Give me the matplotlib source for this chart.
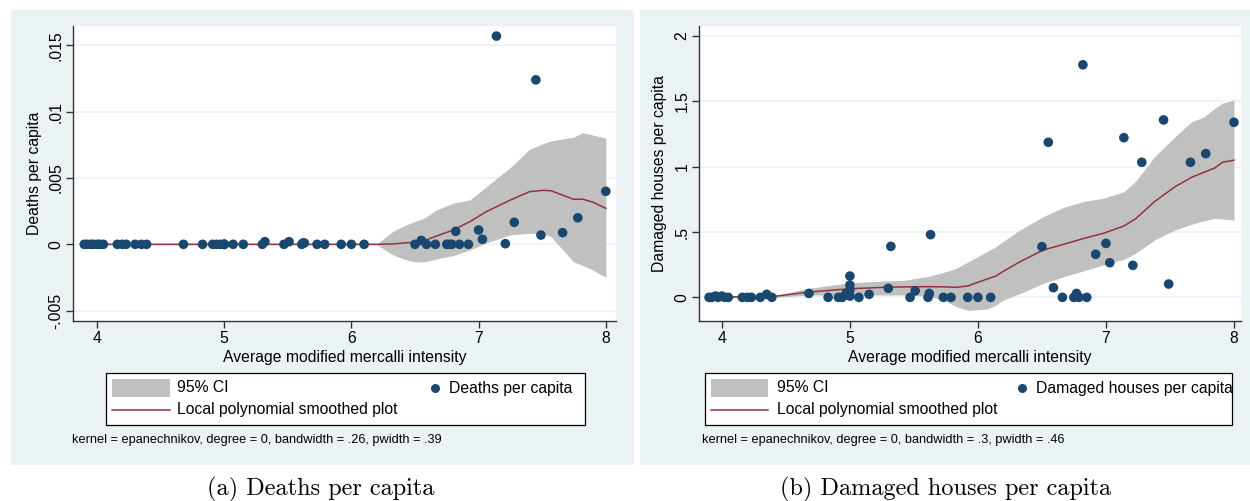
import matplotlib
matplotlib.use("Agg")
import matplotlib.pyplot as plt
from matplotlib.patches import Rectangle
from matplotlib.lines import Line2D

plt.rcParams['font.family'] = ['Liberation Sans', 'DejaVu Sans']

# ---------------- data ----------------
mmi = [3.9, 3.92, 3.95, 3.97, 4.0, 4.02, 4.05,
       4.16, 4.2, 4.23, 4.3, 4.35, 4.39,
       4.68, 4.83, 4.91, 4.94, 4.97, 5.0, 5.0, 5.0, 5.0, 5.07, 5.15,
       5.3, 5.32, 5.47, 5.51, 5.61, 5.62, 5.63, 5.73, 5.79, 5.92, 6.0, 6.1,
       6.5, 6.55, 6.59, 6.66, 6.75, 6.77, 6.79, 6.82, 6.85, 6.92, 7.0, 7.03,
       7.14, 7.21, 7.28, 7.45, 7.49, 7.66, 7.78, 8.0]

deaths = [0, 0, 0, 0, 0, 0, 0,
          0, 0, 0, 0, 0, 0,
          0, 0, 0, 0, 0, 0, 0, 0, 0, 0, 0,
          0, 0.0002, 0, 0.0002, 0, 0.0001, 0.0001, 0, 0, 0, 0, 0,
          0, 0.0003, 0, 0, 0, 0, 0, 0.00098, 0, 0, 0.00108, 0.00038,
          0.0157, 0.00005, 0.00166, 0.0124, 0.0007, 0.00088, 0.002, 0.004]

damaged = [0, 0, 0.01, 0, 0.01, 0, 0,
           0, 0, 0, 0, 0.023, 0,
           0.03, 0, 0, 0, 0.03, 0.163, 0.094, 0.056, 0.01, 0, 0.023,
           0.069, 0.39, 0, 0.05, 0, 0.03, 0.48, 0, 0, 0, 0, 0,
           0.388, 1.187, 0.074, 0, 0, 0.03, 0, 1.78, 0, 0.33, 0.413, 0.265,
           1.222, 0.245, 1.034, 1.358, 0.102, 1.034, 1.10, 1.34]

# smoothed line and CI (Deaths)
d_grid = [3.9, 6.2, 6.33, 6.41, 6.49, 6.57, 6.67, 6.80, 6.93, 7.06, 7.25, 7.40,
          7.51, 7.57, 7.745, 7.82, 7.90, 8.0]
d_fit = [0, 0, 0.00003, 0.0001, 0.00015, 0.00027, 0.00063, 0.00108, 0.0017,
         0.00246, 0.00334, 0.00397, 0.00407, 0.00404, 0.0034, 0.0034, 0.00317, 0.00271]
d_lo = [-0.00003, -0.00003, -0.00081, -0.0011, -0.00131, -0.00134, -0.0011, -0.00085,
        -0.00043, 0.0001, 0.00072, 0.00083, 0.0008, 0.00057, -0.00131, -0.0016, -0.00195, -0.00249]
d_hi = [0.00003, 0.00003, 0.001, 0.00138, 0.0017, 0.00196, 0.0026, 0.0031, 0.00334,
        0.00434, 0.0058, 0.00716, 0.0076, 0.0078, 0.00807, 0.00842, 0.00824, 0.008]

# smoothed line and CI (Damaged houses)
h_grid = [3.9, 4.43, 4.675, 5.0, 5.27, 5.42, 5.61, 5.73, 5.83, 5.92, 6.07, 6.14,
          6.2, 6.33, 6.51, 6.67, 6.83, 6.98, 7.14, 7.23, 7.38, 7.54, 7.67, 7.76,
          7.85, 7.91, 8.0]
h_fit = [0, 0.01, 0.04, 0.066, 0.077, 0.08, 0.082, 0.08, 0.077, 0.087, 0.14, 0.163,
         0.2, 0.273, 0.362, 0.406, 0.452, 0.49, 0.546, 0.6, 0.733, 0.847, 0.919, 0.955,
         0.99, 1.034, 1.05]
h_lo = [-0.005, 0.0, 0.018, 0.018, 0.018, 0.018, 0.01, -0.02, -0.07, -0.1, -0.09, -0.06,
        -0.02, 0.03, 0.107, 0.158, 0.204, 0.248, 0.291, 0.337, 0.439, 0.516, 0.56, 0.585,
        0.605, 0.6, 0.592]
h_hi = [0.005, 0.018, 0.069, 0.112, 0.125, 0.13, 0.16, 0.19, 0.222, 0.27, 0.35, 0.388,
        0.43, 0.516, 0.618, 0.689, 0.735, 0.758, 0.809, 0.886, 1.077, 1.23, 1.345, 1.378,
        1.447, 1.486, 1.511]

x_ticks = [4, 5, 6, 7, 8]
d_yticks = [-0.005, 0, 0.005, 0.01, 0.015]
d_ylabels = ['-.005', '0', '.005', '.01', '.015']
h_yticks = [0, 0.5, 1, 1.5, 2]
h_ylabels = ['0', '.5', '1', '1.5', '2']

# ---------------- style ----------------
W, H = 1250, 501
BG = '#EAF2F3'
NAVY = '#1A476F'
MAROON = '#90353B'
BAND = '#C0C0C0'
FS = 11.3

fig = plt.figure(figsize=(W / 100, H / 100), dpi=100)
fig.patch.set_facecolor('white')


def fx(px):
    return px / W


def fy(py):
    return 1 - py / H


# panel backgrounds
fig.patches.append(Rectangle((fx(11), fy(465)), fx(634) - fx(11), fy(10) - fy(465),
                             transform=fig.transFigure, facecolor=BG, edgecolor='none', zorder=-5))
fig.patches.append(Rectangle((fx(640), fy(465)), fx(1250) - fx(640), fy(10) - fy(465),
                             transform=fig.transFigure, facecolor=BG, edgecolor='none', zorder=-5))


def make_panel(left_px, right_px, xlim, ylim, yticks, ylabels, ylab,
               grid, fit, lo, hi, yvals, series_name, note,
               box, patch_x, text_x, dot_x, note_x):
    ax = fig.add_axes([fx(left_px), fy(321), fx(right_px) - fx(left_px), fy(26) - fy(321)])
    ax.set_zorder(2)
    ax.set_facecolor('white')
    ax.set_xlim(*xlim)
    ax.set_ylim(*ylim)
    for yt in yticks:
        ax.axhline(yt, color=BG, lw=1.2, zorder=0)
    ax.fill_between(grid, lo, hi, color=BAND, lw=0, zorder=1)
    ax.plot(grid, fit, color=MAROON, lw=1.1, zorder=2)
    ax.scatter(mmi, yvals, s=48, color=NAVY, edgecolors='none', zorder=3)
    ax.set_xticks(x_ticks)
    ax.set_xticklabels([str(v) for v in x_ticks], fontsize=FS)
    ax.set_yticks(yticks)
    ax.set_yticklabels(ylabels, fontsize=FS, rotation=90, va='center')
    for s in ['top', 'right']:
        ax.spines[s].set_visible(False)
    for s in ['left', 'bottom']:
        ax.spines[s].set_color('#333333')
        ax.spines[s].set_linewidth(1.0)
    ax.tick_params(direction='out', length=5, width=1.0, color='#333333', pad=2)
    ax.set_xlabel('Average modified mercalli intensity', fontsize=FS, labelpad=3)
    ax.set_ylabel(ylab, fontsize=FS, labelpad=5)

    # legend box
    bx0, bx1 = box
    fig.patches.append(Rectangle((fx(bx0), fy(424.5)), fx(bx1) - fx(bx0), fy(372.7) - fy(424.5),
                                 transform=fig.transFigure, facecolor='white',
                                 edgecolor='black', lw=0.9, zorder=5))
    fig.patches.append(Rectangle((fx(patch_x[0]), fy(397)), fx(patch_x[1]) - fx(patch_x[0]),
                                 fy(379) - fy(397), transform=fig.transFigure,
                                 facecolor=BAND, edgecolor='none', zorder=6))
    fig.lines.append(Line2D([fx(patch_x[0]), fx(patch_x[1])], [fy(409.5), fy(409.5)],
                            transform=fig.transFigure, color=MAROON, lw=1.1, zorder=6))
    fig.text(fx(text_x), fy(388), '95% CI', fontsize=FS, va='center', ha='left', zorder=7)
    fig.text(fx(text_x), fy(409.5), 'Local polynomial smoothed plot', fontsize=FS,
             va='center', ha='left', zorder=7)
    fig.lines.append(Line2D([fx(dot_x)], [fy(388)], transform=fig.transFigure, marker='o',
                            markersize=6.5, color=NAVY, markeredgewidth=0, lw=0, zorder=7))
    fig.text(fx(dot_x + 14), fy(388), series_name, fontsize=FS, va='center', ha='left', zorder=7)
    fig.text(fx(note_x), fy(440), note, fontsize=9.2, va='center', ha='left')
    return ax


make_panel(73.3, 616, (3.814, 8.08), (-0.00578, 0.01646), d_yticks, d_ylabels,
           'Deaths per capita', d_grid, d_fit, d_lo, d_hi, deaths, 'Deaths per capita',
           'kernel = epanechnikov, degree = 0, bandwidth = .26, pwidth = .39',
           (106, 584.5), (112, 170), 177, 434.6, 72)

make_panel(699.1, 1241, (3.822, 8.055), (-0.181, 2.077), h_yticks, h_ylabels,
           'Damaged houses per capita', h_grid, h_fit, h_lo, h_hi, damaged,
           'Damaged houses per capita',
           'kernel = epanechnikov, degree = 0, bandwidth = .3, pwidth = .46',
           (705, 1232), (711, 768), 777, 1021.5, 702)

# captions
fig.text(fx(321), fy(489), '(a) Deaths per capita', fontsize=17.5, family=['cmr10', 'DejaVu Serif'],
         ha='center', va='center')
fig.text(fx(946), fy(489), '(b) Damaged houses per capita', fontsize=17.5,
         family=['cmr10', 'DejaVu Serif'], ha='center', va='center')

fig.savefig('out.png', dpi=100, facecolor='white')
